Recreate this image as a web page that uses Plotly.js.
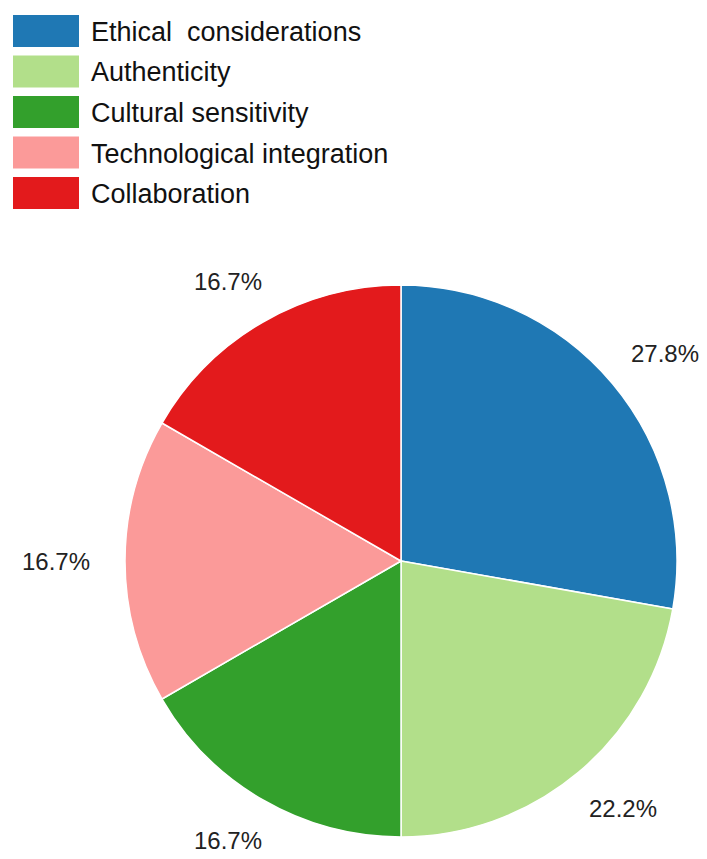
<!DOCTYPE html>
<html>
<head>
<meta charset="utf-8">
<script src="https://cdn.plot.ly/plotly-3.0.1.min.js"></script>
<style>html,body{margin:0;padding:0;background:#fff;}</style>
</head>
<body>
<div id="chart" style="width:707px;height:859px;"></div>
<script>
const labels = ["Ethical  considerations", "Authenticity", "Cultural sensitivity", "Technological integration", "Collaboration"];
const values = [5, 4, 3, 3, 3];
const colors = ["#1f78b4", "#b2df8a", "#33a02c", "#fb9a99", "#e31a1c"];

const W = 707, H = 859;
const CX = 401, CY = 561, R = 276, LABEL_RX = 345, LABEL_RY = 323;
const FONT = "Liberation Sans, Arial, sans-serif";

const shapes = [];
const annotations = [];
labels.forEach((lab, i) => {
  const top = 15 + i * 40.5;
  shapes.push({
    type: "rect", xref: "paper", yref: "paper",
    x0: 13 / W, x1: 79 / W,
    y0: 1 - (top + 32) / H, y1: 1 - top / H,
    fillcolor: colors[i], line: {width: 0}
  });
  annotations.push({
    text: lab, xref: "paper", yref: "paper",
    x: 89 / W, y: 1 - (top + 17) / H,
    xanchor: "left", yanchor: "middle", showarrow: false,
    font: {family: FONT, size: 27, color: "#111"}
  });
});

// percentage labels placed outside the pie, derived from the values
const total = values.reduce((a, b) => a + b, 0);
let cum = 0;
values.forEach((v) => {
  const mid = (cum + v / 2) / total * 2 * Math.PI;
  cum += v;
  const px = CX + LABEL_RX * Math.sin(mid);
  const py = CY - LABEL_RY * Math.cos(mid);
  annotations.push({
    text: (v / total * 100).toFixed(1) + "%",
    xref: "paper", yref: "paper",
    x: px / W, y: 1 - py / H,
    xanchor: "center", yanchor: "middle", showarrow: false,
    font: {family: FONT, size: 24, color: "#222"}
  });
});

const trace = {
  type: "pie",
  labels: labels,
  values: values,
  sort: false,
  direction: "clockwise",
  rotation: 0,
  marker: {colors: colors, line: {color: "#ffffff", width: 1.5}},
  textinfo: "none",
  domain: {x: [(CX - R) / W, (CX + R) / W], y: [(H - CY - R) / H, (H - CY + R) / H]},
  hoverinfo: "none",
  showlegend: false
};

Plotly.newPlot("chart", [trace], {
  width: W, height: H,
  margin: {l: 0, r: 0, t: 0, b: 0},
  paper_bgcolor: "#fff",
  showlegend: false,
  shapes: shapes,
  annotations: annotations
}, {staticPlot: true});
</script>
</body>
</html>
